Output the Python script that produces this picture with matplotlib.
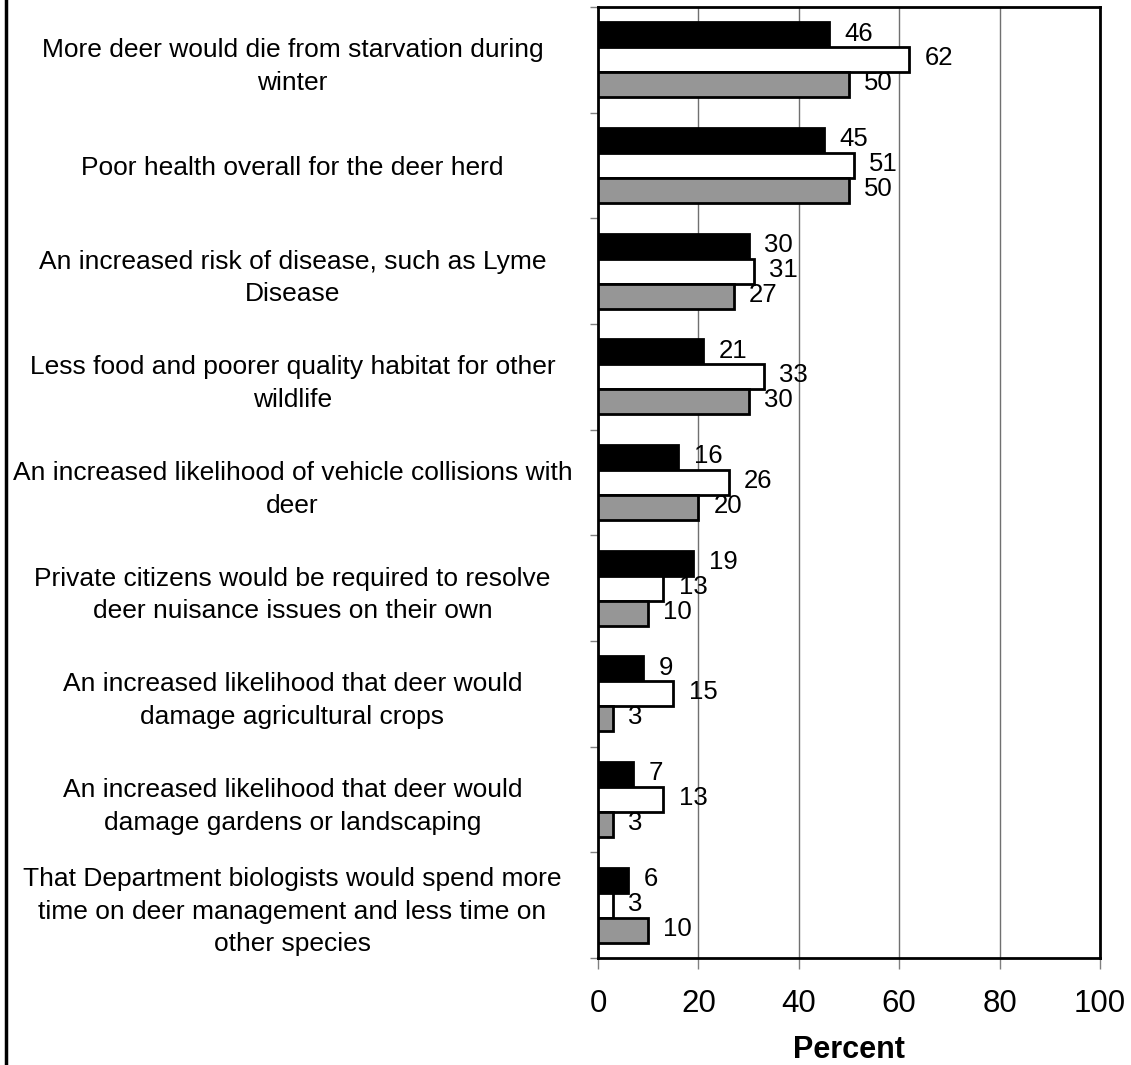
import numpy as np
import matplotlib
matplotlib.use("Agg")
import matplotlib.pyplot as plt
from matplotlib.lines import Line2D

plt.rcParams['font.family'] = ['Liberation Sans', 'DejaVu Sans']

# data
categories = [
    "More deer would die from starvation during\nwinter",
    "Poor health overall for the deer herd",
    "An increased risk of disease, such as Lyme\nDisease",
    "Less food and poorer quality habitat for other\nwildlife",
    "An increased likelihood of vehicle collisions with\ndeer",
    "Private citizens would be required to resolve\ndeer nuisance issues on their own",
    "An increased likelihood that deer would\ndamage agricultural crops",
    "An increased likelihood that deer would\ndamage gardens or landscaping",
    "That Department biologists would spend more\ntime on deer management and less time on\nother species",
]
black_vals = [46, 45, 30, 21, 16, 19, 9, 7, 6]
white_vals = [62, 51, 31, 33, 26, 13, 15, 13, 3]
gray_vals = [50, 50, 27, 30, 20, 10, 3, 3, 10]
xticks = [0, 20, 40, 60, 80, 100]

fig = plt.figure(figsize=(11.31, 10.65), dpi=100)
ax = fig.add_axes([598 / 1131, 107 / 1065, 502 / 1131, 951 / 1065])

n = len(categories)
y = np.arange(n)
h = 0.236
series = [(black_vals, 'black', -h), (white_vals, 'white', 0), (gray_vals, '#969696', h)]
for vals, col, off in series:
    bars = ax.barh(y + off, vals, height=h, color=col, edgecolor='black',
                   linewidth=2, zorder=3)
    for b, v in zip(bars, vals):
        ax.annotate(str(v), (b.get_width(), b.get_y() + b.get_height() / 2),
                    xytext=(11, 1), textcoords='offset points',
                    ha='left', va='center', fontsize=18.5, zorder=4)

ax.set_xlim(0, 100)
ax.set_ylim(n - 0.5, -0.5)
ax.set_xticks(xticks)
ax.set_xticklabels([str(t) for t in xticks], fontsize=22.5)
ax.xaxis.grid(True, color='#707070', linewidth=1, zorder=0)
ax.tick_params(axis='x', length=8, width=1, color='#808080', pad=14)

# category labels centred in each band, ticks on the band edges
ax.set_yticks(y)
ax.set_yticklabels(categories, fontsize=19, ha='center', multialignment='center',
                   linespacing=1.45)
ax.tick_params(axis='y', which='major', length=0, pad=220)
ax.set_yticks(np.arange(n + 1) - 0.5, minor=True)
ax.tick_params(axis='y', which='minor', length=6, width=1, color='#808080')

for s in ax.spines.values():
    s.set_linewidth(2)

ax.set_xlabel("Percent", fontsize=22, fontweight='bold', labelpad=12)

fig.add_artist(Line2D([6 / 1131, 6 / 1131], [0, 1], color='black', linewidth=2.5,
                      transform=fig.transFigure))

fig.savefig("out.png", dpi=100)
